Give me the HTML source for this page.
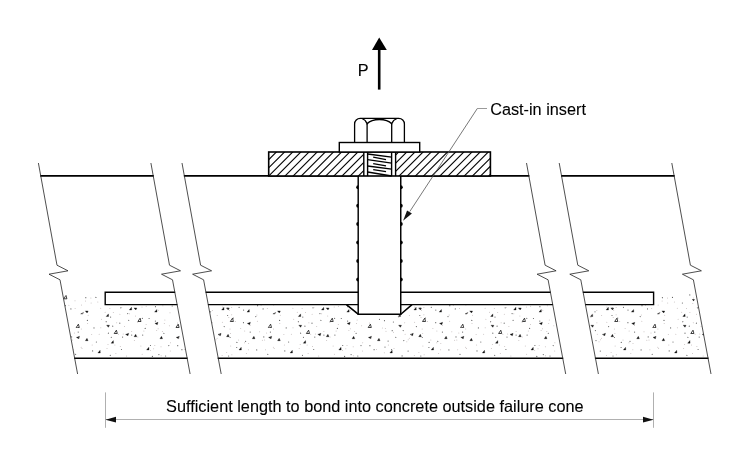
<!DOCTYPE html>
<html lang="en"><head><meta charset="utf-8"><title>Cast-in insert</title>
<style>
html,body{margin:0;padding:0;background:#fff;}
body{width:750px;height:465px;overflow:hidden;}
svg{display:block;will-change:transform;opacity:0.999;}
text{font-family:"Liberation Sans",Arial,sans-serif;font-size:16.25px;fill:#000;stroke:#000;stroke-width:0.1px;}
</style></head><body>
<svg width="750" height="465" viewBox="0 0 750 465">
<rect width="750" height="465" fill="#fff"/>

<defs><clipPath id="cc">
<polygon points="62.35,292.4 174.85,292.4 187.11,358 74.61,358"/>
<polygon points="205.95,292.4 550.45,292.4 562.71,358 218.21,358"/>
<polygon points="583.15,292.4 695.75,292.4 708.01,358 595.41,358"/>
</clipPath></defs>
<g clip-path="url(#cc)">
<polygon transform="translate(693.4,300)" points="-1.5,-0.8 1.4,-0.7 0.3,1.3" fill="#111"/>
<polygon transform="translate(115.8,332)" points="-1.6,1.5 1.5,1.5 0.6,-1.8" fill="#fff" stroke="#111" stroke-width="0.8"/>
<polygon transform="translate(308.0,332)" points="-1.6,1.5 1.5,1.5 0.6,-1.8" fill="#fff" stroke="#111" stroke-width="0.8"/>
<polygon transform="translate(500.2,332)" points="-1.6,1.5 1.5,1.5 0.6,-1.8" fill="#fff" stroke="#111" stroke-width="0.8"/>
<polygon transform="translate(692.4,332)" points="-1.6,1.5 1.5,1.5 0.6,-1.8" fill="#fff" stroke="#111" stroke-width="0.8"/>
<polygon transform="translate(30.8,308.7)" points="-1.3,1.2 1.1,1.2 0.9,-1.4" fill="#111" stroke="#111" stroke-width="0.3"/>
<polygon transform="translate(35.7,308.7)" points="-1.5,-0.8 1.4,-0.7 0.3,1.3" fill="#111" stroke="#111" stroke-width="0.3"/>
<polygon transform="translate(56.1,310.9)" points="-1.3,1.2 1.1,1.2 0.9,-1.4" fill="#111" stroke="#111" stroke-width="0.3"/>
<polygon transform="translate(39.7,320.0)" points="-1.6,1.5 1.5,1.5 0.6,-1.8" fill="#fff" stroke="#111" stroke-width="0.8"/>
<polygon transform="translate(56.8,323.3)" points="-1.7,0.1 1.4,-1.0 0.7,1.4" fill="#111" stroke="#111" stroke-width="0.3"/>
<polygon transform="translate(35.7,335.6)" points="-1.4,1.1 1.3,1.1 0.2,-1.3" fill="#111" stroke="#111" stroke-width="0.3"/>
<polygon transform="translate(61.5,337.6)" points="-1.4,1.1 1.3,1.1 0.2,-1.3" fill="#111" stroke="#111" stroke-width="0.3"/>
<polygon transform="translate(48.1,348.7)" points="-1.3,1.2 1.1,1.2 0.9,-1.4" fill="#111" stroke="#111" stroke-width="0.3"/>
<polygon transform="translate(77.8,326.0)" points="-1.6,1.5 1.5,1.5 0.6,-1.8" fill="#fff" stroke="#111" stroke-width="0.8"/>
<polygon transform="translate(78.1,337.3)" points="-1.7,0.1 1.4,-1.0 0.7,1.4" fill="#111" stroke="#111" stroke-width="0.3"/>
<polygon transform="translate(86.8,339.6)" points="-1.4,1.1 1.3,1.1 0.2,-1.3" fill="#111" stroke="#111" stroke-width="0.3"/>
<polygon transform="translate(82.1,312.9)" points="-1.4,1.0 1.4,-0.5 0.5,1.2" fill="#111" stroke="#111" stroke-width="0.3"/>
<polygon transform="translate(86.8,311.7)" points="-1.5,-0.8 1.4,-0.7 0.3,1.3" fill="#111" stroke="#111" stroke-width="0.3"/>
<polygon transform="translate(107.5,315.3)" points="-1.3,1.2 1.1,1.2 0.9,-1.4" fill="#111" stroke="#111" stroke-width="0.3"/>
<polygon transform="translate(108.1,326.0)" points="-1.5,-0.8 1.4,-0.7 0.3,1.3" fill="#111" stroke="#111" stroke-width="0.3"/>
<polygon transform="translate(112.4,342.0)" points="-1.3,1.2 1.1,1.2 0.9,-1.4" fill="#111" stroke="#111" stroke-width="0.3"/>
<polygon transform="translate(99.2,351.7)" points="-1.3,1.2 1.1,1.2 0.9,-1.4" fill="#111" stroke="#111" stroke-width="0.3"/>
<polygon transform="translate(65.4,297.3)" points="-1.6,1.5 1.5,1.5 0.6,-1.8" fill="#fff" stroke="#111" stroke-width="0.8"/>
<polygon transform="translate(223.0,308.7)" points="-1.3,1.2 1.1,1.2 0.9,-1.4" fill="#111" stroke="#111" stroke-width="0.3"/>
<polygon transform="translate(227.9,308.7)" points="-1.5,-0.8 1.4,-0.7 0.3,1.3" fill="#111" stroke="#111" stroke-width="0.3"/>
<polygon transform="translate(248.3,310.9)" points="-1.3,1.2 1.1,1.2 0.9,-1.4" fill="#111" stroke="#111" stroke-width="0.3"/>
<polygon transform="translate(231.9,320.0)" points="-1.6,1.5 1.5,1.5 0.6,-1.8" fill="#fff" stroke="#111" stroke-width="0.8"/>
<polygon transform="translate(249.0,323.3)" points="-1.7,0.1 1.4,-1.0 0.7,1.4" fill="#111" stroke="#111" stroke-width="0.3"/>
<polygon transform="translate(219.7,334.3)" points="-1.7,0.1 1.4,-1.0 0.7,1.4" fill="#111" stroke="#111" stroke-width="0.3"/>
<polygon transform="translate(227.9,335.6)" points="-1.4,1.1 1.3,1.1 0.2,-1.3" fill="#111" stroke="#111" stroke-width="0.3"/>
<polygon transform="translate(253.7,337.6)" points="-1.4,1.1 1.3,1.1 0.2,-1.3" fill="#111" stroke="#111" stroke-width="0.3"/>
<polygon transform="translate(240.3,348.7)" points="-1.3,1.2 1.1,1.2 0.9,-1.4" fill="#111" stroke="#111" stroke-width="0.3"/>
<polygon transform="translate(270.0,326.0)" points="-1.6,1.5 1.5,1.5 0.6,-1.8" fill="#fff" stroke="#111" stroke-width="0.8"/>
<polygon transform="translate(270.3,337.3)" points="-1.7,0.1 1.4,-1.0 0.7,1.4" fill="#111" stroke="#111" stroke-width="0.3"/>
<polygon transform="translate(279.0,339.6)" points="-1.4,1.1 1.3,1.1 0.2,-1.3" fill="#111" stroke="#111" stroke-width="0.3"/>
<polygon transform="translate(274.3,312.9)" points="-1.4,1.0 1.4,-0.5 0.5,1.2" fill="#111" stroke="#111" stroke-width="0.3"/>
<polygon transform="translate(279.0,311.7)" points="-1.5,-0.8 1.4,-0.7 0.3,1.3" fill="#111" stroke="#111" stroke-width="0.3"/>
<polygon transform="translate(299.7,315.3)" points="-1.3,1.2 1.1,1.2 0.9,-1.4" fill="#111" stroke="#111" stroke-width="0.3"/>
<polygon transform="translate(300.3,326.0)" points="-1.5,-0.8 1.4,-0.7 0.3,1.3" fill="#111" stroke="#111" stroke-width="0.3"/>
<polygon transform="translate(304.6,342.0)" points="-1.3,1.2 1.1,1.2 0.9,-1.4" fill="#111" stroke="#111" stroke-width="0.3"/>
<polygon transform="translate(291.4,351.7)" points="-1.3,1.2 1.1,1.2 0.9,-1.4" fill="#111" stroke="#111" stroke-width="0.3"/>
<polygon transform="translate(415.2,308.7)" points="-1.3,1.2 1.1,1.2 0.9,-1.4" fill="#111" stroke="#111" stroke-width="0.3"/>
<polygon transform="translate(420.1,308.7)" points="-1.5,-0.8 1.4,-0.7 0.3,1.3" fill="#111" stroke="#111" stroke-width="0.3"/>
<polygon transform="translate(440.5,310.9)" points="-1.3,1.2 1.1,1.2 0.9,-1.4" fill="#111" stroke="#111" stroke-width="0.3"/>
<polygon transform="translate(424.1,320.0)" points="-1.6,1.5 1.5,1.5 0.6,-1.8" fill="#fff" stroke="#111" stroke-width="0.8"/>
<polygon transform="translate(441.2,323.3)" points="-1.7,0.1 1.4,-1.0 0.7,1.4" fill="#111" stroke="#111" stroke-width="0.3"/>
<polygon transform="translate(411.9,334.3)" points="-1.7,0.1 1.4,-1.0 0.7,1.4" fill="#111" stroke="#111" stroke-width="0.3"/>
<polygon transform="translate(420.1,335.6)" points="-1.4,1.1 1.3,1.1 0.2,-1.3" fill="#111" stroke="#111" stroke-width="0.3"/>
<polygon transform="translate(445.9,337.6)" points="-1.4,1.1 1.3,1.1 0.2,-1.3" fill="#111" stroke="#111" stroke-width="0.3"/>
<polygon transform="translate(432.5,348.7)" points="-1.3,1.2 1.1,1.2 0.9,-1.4" fill="#111" stroke="#111" stroke-width="0.3"/>
<polygon transform="translate(462.2,326.0)" points="-1.6,1.5 1.5,1.5 0.6,-1.8" fill="#fff" stroke="#111" stroke-width="0.8"/>
<polygon transform="translate(462.5,337.3)" points="-1.7,0.1 1.4,-1.0 0.7,1.4" fill="#111" stroke="#111" stroke-width="0.3"/>
<polygon transform="translate(471.2,339.6)" points="-1.4,1.1 1.3,1.1 0.2,-1.3" fill="#111" stroke="#111" stroke-width="0.3"/>
<polygon transform="translate(466.5,312.9)" points="-1.4,1.0 1.4,-0.5 0.5,1.2" fill="#111" stroke="#111" stroke-width="0.3"/>
<polygon transform="translate(471.2,311.7)" points="-1.5,-0.8 1.4,-0.7 0.3,1.3" fill="#111" stroke="#111" stroke-width="0.3"/>
<polygon transform="translate(491.9,315.3)" points="-1.3,1.2 1.1,1.2 0.9,-1.4" fill="#111" stroke="#111" stroke-width="0.3"/>
<polygon transform="translate(492.5,326.0)" points="-1.5,-0.8 1.4,-0.7 0.3,1.3" fill="#111" stroke="#111" stroke-width="0.3"/>
<polygon transform="translate(496.8,342.0)" points="-1.3,1.2 1.1,1.2 0.9,-1.4" fill="#111" stroke="#111" stroke-width="0.3"/>
<polygon transform="translate(483.6,351.7)" points="-1.3,1.2 1.1,1.2 0.9,-1.4" fill="#111" stroke="#111" stroke-width="0.3"/>
<polygon transform="translate(607.4,308.7)" points="-1.3,1.2 1.1,1.2 0.9,-1.4" fill="#111" stroke="#111" stroke-width="0.3"/>
<polygon transform="translate(612.3,308.7)" points="-1.5,-0.8 1.4,-0.7 0.3,1.3" fill="#111" stroke="#111" stroke-width="0.3"/>
<polygon transform="translate(632.7,310.9)" points="-1.3,1.2 1.1,1.2 0.9,-1.4" fill="#111" stroke="#111" stroke-width="0.3"/>
<polygon transform="translate(616.3,320.0)" points="-1.6,1.5 1.5,1.5 0.6,-1.8" fill="#fff" stroke="#111" stroke-width="0.8"/>
<polygon transform="translate(633.4,323.3)" points="-1.7,0.1 1.4,-1.0 0.7,1.4" fill="#111" stroke="#111" stroke-width="0.3"/>
<polygon transform="translate(604.1,334.3)" points="-1.7,0.1 1.4,-1.0 0.7,1.4" fill="#111" stroke="#111" stroke-width="0.3"/>
<polygon transform="translate(612.3,335.6)" points="-1.4,1.1 1.3,1.1 0.2,-1.3" fill="#111" stroke="#111" stroke-width="0.3"/>
<polygon transform="translate(638.1,337.6)" points="-1.4,1.1 1.3,1.1 0.2,-1.3" fill="#111" stroke="#111" stroke-width="0.3"/>
<polygon transform="translate(624.7,348.7)" points="-1.3,1.2 1.1,1.2 0.9,-1.4" fill="#111" stroke="#111" stroke-width="0.3"/>
<polygon transform="translate(654.4,326.0)" points="-1.6,1.5 1.5,1.5 0.6,-1.8" fill="#fff" stroke="#111" stroke-width="0.8"/>
<polygon transform="translate(654.7,337.3)" points="-1.7,0.1 1.4,-1.0 0.7,1.4" fill="#111" stroke="#111" stroke-width="0.3"/>
<polygon transform="translate(663.4,339.6)" points="-1.4,1.1 1.3,1.1 0.2,-1.3" fill="#111" stroke="#111" stroke-width="0.3"/>
<polygon transform="translate(658.7,312.9)" points="-1.4,1.0 1.4,-0.5 0.5,1.2" fill="#111" stroke="#111" stroke-width="0.3"/>
<polygon transform="translate(663.4,311.7)" points="-1.5,-0.8 1.4,-0.7 0.3,1.3" fill="#111" stroke="#111" stroke-width="0.3"/>
<polygon transform="translate(684.1,315.3)" points="-1.3,1.2 1.1,1.2 0.9,-1.4" fill="#111" stroke="#111" stroke-width="0.3"/>
<polygon transform="translate(684.7,326.0)" points="-1.5,-0.8 1.4,-0.7 0.3,1.3" fill="#111" stroke="#111" stroke-width="0.3"/>
<polygon transform="translate(689.0,342.0)" points="-1.3,1.2 1.1,1.2 0.9,-1.4" fill="#111" stroke="#111" stroke-width="0.3"/>
<polygon transform="translate(675.8,351.7)" points="-1.3,1.2 1.1,1.2 0.9,-1.4" fill="#111" stroke="#111" stroke-width="0.3"/>
<polygon transform="translate(130.6,308.7)" points="-1.3,1.2 1.1,1.2 0.9,-1.4" fill="#111" stroke="#111" stroke-width="0.3"/>
<polygon transform="translate(135.5,308.7)" points="-1.5,-0.8 1.4,-0.7 0.3,1.3" fill="#111" stroke="#111" stroke-width="0.3"/>
<polygon transform="translate(155.9,310.9)" points="-1.3,1.2 1.1,1.2 0.9,-1.4" fill="#111" stroke="#111" stroke-width="0.3"/>
<polygon transform="translate(139.5,320.0)" points="-1.6,1.5 1.5,1.5 0.6,-1.8" fill="#fff" stroke="#111" stroke-width="0.8"/>
<polygon transform="translate(156.6,323.3)" points="-1.7,0.1 1.4,-1.0 0.7,1.4" fill="#111" stroke="#111" stroke-width="0.3"/>
<polygon transform="translate(127.3,334.3)" points="-1.7,0.1 1.4,-1.0 0.7,1.4" fill="#111" stroke="#111" stroke-width="0.3"/>
<polygon transform="translate(135.5,335.6)" points="-1.4,1.1 1.3,1.1 0.2,-1.3" fill="#111" stroke="#111" stroke-width="0.3"/>
<polygon transform="translate(161.3,337.6)" points="-1.4,1.1 1.3,1.1 0.2,-1.3" fill="#111" stroke="#111" stroke-width="0.3"/>
<polygon transform="translate(147.9,348.7)" points="-1.3,1.2 1.1,1.2 0.9,-1.4" fill="#111" stroke="#111" stroke-width="0.3"/>
<polygon transform="translate(177.6,326.0)" points="-1.6,1.5 1.5,1.5 0.6,-1.8" fill="#fff" stroke="#111" stroke-width="0.8"/>
<polygon transform="translate(177.9,337.3)" points="-1.7,0.1 1.4,-1.0 0.7,1.4" fill="#111" stroke="#111" stroke-width="0.3"/>
<polygon transform="translate(186.6,339.6)" points="-1.4,1.1 1.3,1.1 0.2,-1.3" fill="#111" stroke="#111" stroke-width="0.3"/>
<polygon transform="translate(181.9,312.9)" points="-1.4,1.0 1.4,-0.5 0.5,1.2" fill="#111" stroke="#111" stroke-width="0.3"/>
<polygon transform="translate(186.6,311.7)" points="-1.5,-0.8 1.4,-0.7 0.3,1.3" fill="#111" stroke="#111" stroke-width="0.3"/>
<polygon transform="translate(207.3,315.3)" points="-1.3,1.2 1.1,1.2 0.9,-1.4" fill="#111" stroke="#111" stroke-width="0.3"/>
<polygon transform="translate(207.9,326.0)" points="-1.5,-0.8 1.4,-0.7 0.3,1.3" fill="#111" stroke="#111" stroke-width="0.3"/>
<polygon transform="translate(199.0,351.7)" points="-1.3,1.2 1.1,1.2 0.9,-1.4" fill="#111" stroke="#111" stroke-width="0.3"/>
<polygon transform="translate(322.8,308.7)" points="-1.3,1.2 1.1,1.2 0.9,-1.4" fill="#111" stroke="#111" stroke-width="0.3"/>
<polygon transform="translate(327.7,308.7)" points="-1.5,-0.8 1.4,-0.7 0.3,1.3" fill="#111" stroke="#111" stroke-width="0.3"/>
<polygon transform="translate(348.1,310.9)" points="-1.3,1.2 1.1,1.2 0.9,-1.4" fill="#111" stroke="#111" stroke-width="0.3"/>
<polygon transform="translate(331.7,320.0)" points="-1.6,1.5 1.5,1.5 0.6,-1.8" fill="#fff" stroke="#111" stroke-width="0.8"/>
<polygon transform="translate(348.8,323.3)" points="-1.7,0.1 1.4,-1.0 0.7,1.4" fill="#111" stroke="#111" stroke-width="0.3"/>
<polygon transform="translate(319.5,334.3)" points="-1.7,0.1 1.4,-1.0 0.7,1.4" fill="#111" stroke="#111" stroke-width="0.3"/>
<polygon transform="translate(327.7,335.6)" points="-1.4,1.1 1.3,1.1 0.2,-1.3" fill="#111" stroke="#111" stroke-width="0.3"/>
<polygon transform="translate(353.5,337.6)" points="-1.4,1.1 1.3,1.1 0.2,-1.3" fill="#111" stroke="#111" stroke-width="0.3"/>
<polygon transform="translate(340.1,348.7)" points="-1.3,1.2 1.1,1.2 0.9,-1.4" fill="#111" stroke="#111" stroke-width="0.3"/>
<polygon transform="translate(369.8,326.0)" points="-1.6,1.5 1.5,1.5 0.6,-1.8" fill="#fff" stroke="#111" stroke-width="0.8"/>
<polygon transform="translate(370.1,337.3)" points="-1.7,0.1 1.4,-1.0 0.7,1.4" fill="#111" stroke="#111" stroke-width="0.3"/>
<polygon transform="translate(378.8,339.6)" points="-1.4,1.1 1.3,1.1 0.2,-1.3" fill="#111" stroke="#111" stroke-width="0.3"/>
<polygon transform="translate(374.1,312.9)" points="-1.4,1.0 1.4,-0.5 0.5,1.2" fill="#111" stroke="#111" stroke-width="0.3"/>
<polygon transform="translate(378.8,311.7)" points="-1.5,-0.8 1.4,-0.7 0.3,1.3" fill="#111" stroke="#111" stroke-width="0.3"/>
<polygon transform="translate(399.5,315.3)" points="-1.3,1.2 1.1,1.2 0.9,-1.4" fill="#111" stroke="#111" stroke-width="0.3"/>
<polygon transform="translate(400.1,326.0)" points="-1.5,-0.8 1.4,-0.7 0.3,1.3" fill="#111" stroke="#111" stroke-width="0.3"/>
<polygon transform="translate(391.2,351.7)" points="-1.3,1.2 1.1,1.2 0.9,-1.4" fill="#111" stroke="#111" stroke-width="0.3"/>
<polygon transform="translate(515.0,308.7)" points="-1.3,1.2 1.1,1.2 0.9,-1.4" fill="#111" stroke="#111" stroke-width="0.3"/>
<polygon transform="translate(519.9,308.7)" points="-1.5,-0.8 1.4,-0.7 0.3,1.3" fill="#111" stroke="#111" stroke-width="0.3"/>
<polygon transform="translate(540.3,310.9)" points="-1.3,1.2 1.1,1.2 0.9,-1.4" fill="#111" stroke="#111" stroke-width="0.3"/>
<polygon transform="translate(523.9,320.0)" points="-1.6,1.5 1.5,1.5 0.6,-1.8" fill="#fff" stroke="#111" stroke-width="0.8"/>
<polygon transform="translate(541.0,323.3)" points="-1.7,0.1 1.4,-1.0 0.7,1.4" fill="#111" stroke="#111" stroke-width="0.3"/>
<polygon transform="translate(511.7,334.3)" points="-1.7,0.1 1.4,-1.0 0.7,1.4" fill="#111" stroke="#111" stroke-width="0.3"/>
<polygon transform="translate(519.9,335.6)" points="-1.4,1.1 1.3,1.1 0.2,-1.3" fill="#111" stroke="#111" stroke-width="0.3"/>
<polygon transform="translate(545.7,337.6)" points="-1.4,1.1 1.3,1.1 0.2,-1.3" fill="#111" stroke="#111" stroke-width="0.3"/>
<polygon transform="translate(532.3,348.7)" points="-1.3,1.2 1.1,1.2 0.9,-1.4" fill="#111" stroke="#111" stroke-width="0.3"/>
<polygon transform="translate(562.0,326.0)" points="-1.6,1.5 1.5,1.5 0.6,-1.8" fill="#fff" stroke="#111" stroke-width="0.8"/>
<polygon transform="translate(562.3,337.3)" points="-1.7,0.1 1.4,-1.0 0.7,1.4" fill="#111" stroke="#111" stroke-width="0.3"/>
<polygon transform="translate(571.0,339.6)" points="-1.4,1.1 1.3,1.1 0.2,-1.3" fill="#111" stroke="#111" stroke-width="0.3"/>
<polygon transform="translate(566.3,312.9)" points="-1.4,1.0 1.4,-0.5 0.5,1.2" fill="#111" stroke="#111" stroke-width="0.3"/>
<polygon transform="translate(571.0,311.7)" points="-1.5,-0.8 1.4,-0.7 0.3,1.3" fill="#111" stroke="#111" stroke-width="0.3"/>
<polygon transform="translate(591.7,315.3)" points="-1.3,1.2 1.1,1.2 0.9,-1.4" fill="#111" stroke="#111" stroke-width="0.3"/>
<polygon transform="translate(592.3,326.0)" points="-1.5,-0.8 1.4,-0.7 0.3,1.3" fill="#111" stroke="#111" stroke-width="0.3"/>
<polygon transform="translate(583.4,351.7)" points="-1.3,1.2 1.1,1.2 0.9,-1.4" fill="#111" stroke="#111" stroke-width="0.3"/>
<polygon transform="translate(707.2,308.7)" points="-1.3,1.2 1.1,1.2 0.9,-1.4" fill="#111" stroke="#111" stroke-width="0.3"/>
<polygon transform="translate(712.1,308.7)" points="-1.5,-0.8 1.4,-0.7 0.3,1.3" fill="#111" stroke="#111" stroke-width="0.3"/>
<polygon transform="translate(716.1,320.0)" points="-1.6,1.5 1.5,1.5 0.6,-1.8" fill="#fff" stroke="#111" stroke-width="0.8"/>
<polygon transform="translate(703.9,334.3)" points="-1.7,0.1 1.4,-1.0 0.7,1.4" fill="#111" stroke="#111" stroke-width="0.3"/>
<polygon transform="translate(712.1,335.6)" points="-1.4,1.1 1.3,1.1 0.2,-1.3" fill="#111" stroke="#111" stroke-width="0.3"/>
<circle cx="65.4" cy="305.7" r="0.6" fill="#666"/>
<circle cx="63.6" cy="316.6" r="0.6" fill="#666"/>
<circle cx="58.0" cy="332.1" r="0.6" fill="#666"/>
<circle cx="64.5" cy="349.9" r="0.6" fill="#666"/>
<circle cx="70.9" cy="308.9" r="0.6" fill="#666"/>
<circle cx="71.6" cy="336.9" r="0.6" fill="#666"/>
<circle cx="78.2" cy="332.1" r="0.6" fill="#666"/>
<circle cx="78.7" cy="337.9" r="0.6" fill="#666"/>
<circle cx="75.6" cy="354.3" r="0.6" fill="#666"/>
<circle cx="85.8" cy="297.7" r="0.6" fill="#666"/>
<circle cx="87.4" cy="320.4" r="0.6" fill="#666"/>
<circle cx="95.9" cy="297.4" r="0.6" fill="#666"/>
<circle cx="94.0" cy="327.9" r="0.6" fill="#666"/>
<circle cx="96.4" cy="342.0" r="0.6" fill="#666"/>
<circle cx="92.6" cy="350.9" r="0.6" fill="#666"/>
<circle cx="105.8" cy="303.0" r="0.6" fill="#666"/>
<circle cx="106.2" cy="321.6" r="0.6" fill="#666"/>
<circle cx="108.4" cy="333.2" r="0.6" fill="#666"/>
<circle cx="113.2" cy="294.9" r="0.6" fill="#666"/>
<circle cx="110.6" cy="317.1" r="0.6" fill="#666"/>
<circle cx="112.7" cy="326.2" r="0.6" fill="#666"/>
<circle cx="111.3" cy="337.3" r="0.6" fill="#666"/>
<circle cx="110.3" cy="355.3" r="0.6" fill="#666"/>
<circle cx="120.8" cy="307.8" r="0.6" fill="#666"/>
<circle cx="119.8" cy="323.2" r="0.6" fill="#666"/>
<circle cx="122.6" cy="337.1" r="0.6" fill="#666"/>
<circle cx="121.5" cy="349.5" r="0.6" fill="#666"/>
<circle cx="127.7" cy="313.6" r="0.6" fill="#666"/>
<circle cx="128.7" cy="320.3" r="0.6" fill="#666"/>
<circle cx="131.7" cy="335.1" r="0.6" fill="#666"/>
<circle cx="139.2" cy="295.5" r="0.6" fill="#666"/>
<circle cx="142.4" cy="318.3" r="0.6" fill="#666"/>
<circle cx="142.7" cy="335.1" r="0.6" fill="#666"/>
<circle cx="149.1" cy="318.5" r="0.6" fill="#666"/>
<circle cx="145.2" cy="328.4" r="0.6" fill="#666"/>
<circle cx="150.5" cy="345.5" r="0.6" fill="#666"/>
<circle cx="152.4" cy="356.4" r="0.6" fill="#666"/>
<circle cx="155.5" cy="306.7" r="0.6" fill="#666"/>
<circle cx="155.4" cy="321.1" r="0.6" fill="#666"/>
<circle cx="158.9" cy="354.6" r="0.6" fill="#666"/>
<circle cx="167.7" cy="302.6" r="0.6" fill="#666"/>
<circle cx="163.9" cy="333.3" r="0.6" fill="#666"/>
<circle cx="168.8" cy="345.6" r="0.6" fill="#666"/>
<circle cx="165.6" cy="356.0" r="0.6" fill="#666"/>
<circle cx="172.2" cy="306.0" r="0.6" fill="#666"/>
<circle cx="177.7" cy="345.7" r="0.6" fill="#666"/>
<circle cx="184.3" cy="295.2" r="0.6" fill="#666"/>
<circle cx="187.6" cy="310.7" r="0.6" fill="#666"/>
<circle cx="187.3" cy="319.3" r="0.6" fill="#666"/>
<circle cx="181.9" cy="349.7" r="0.6" fill="#666"/>
<circle cx="193.3" cy="296.4" r="0.6" fill="#666"/>
<circle cx="189.7" cy="313.2" r="0.6" fill="#666"/>
<circle cx="192.3" cy="320.7" r="0.6" fill="#666"/>
<circle cx="195.9" cy="341.1" r="0.6" fill="#666"/>
<circle cx="192.8" cy="347.1" r="0.6" fill="#666"/>
<circle cx="198.9" cy="294.0" r="0.6" fill="#666"/>
<circle cx="201.2" cy="322.0" r="0.6" fill="#666"/>
<circle cx="200.0" cy="330.7" r="0.6" fill="#666"/>
<circle cx="203.6" cy="337.3" r="0.6" fill="#666"/>
<circle cx="199.4" cy="349.6" r="0.6" fill="#666"/>
<circle cx="210.6" cy="311.8" r="0.6" fill="#666"/>
<circle cx="211.0" cy="330.6" r="0.6" fill="#666"/>
<circle cx="211.6" cy="340.6" r="0.6" fill="#666"/>
<circle cx="209.9" cy="355.9" r="0.6" fill="#666"/>
<circle cx="219.3" cy="334.7" r="0.6" fill="#666"/>
<circle cx="215.9" cy="351.1" r="0.6" fill="#666"/>
<circle cx="61.6" cy="303.5" r="0.5" fill="#c4bcbc"/>
<circle cx="57.9" cy="325.6" r="0.5" fill="#c4bcbc"/>
<circle cx="56.4" cy="343.6" r="0.5" fill="#c4bcbc"/>
<circle cx="56.2" cy="349.7" r="0.5" fill="#c4bcbc"/>
<circle cx="64.9" cy="296.4" r="0.5" fill="#c4bcbc"/>
<circle cx="68.9" cy="305.3" r="0.5" fill="#c4bcbc"/>
<circle cx="64.7" cy="314.9" r="0.5" fill="#c4bcbc"/>
<circle cx="65.2" cy="321.2" r="0.5" fill="#c4bcbc"/>
<circle cx="67.4" cy="331.7" r="0.5" fill="#c4bcbc"/>
<circle cx="70.2" cy="340.2" r="0.5" fill="#c4bcbc"/>
<circle cx="75.0" cy="300.7" r="0.5" fill="#c4bcbc"/>
<circle cx="75.1" cy="308.6" r="0.5" fill="#c4bcbc"/>
<circle cx="77.4" cy="326.9" r="0.5" fill="#c4bcbc"/>
<circle cx="74.4" cy="333.0" r="0.5" fill="#c4bcbc"/>
<circle cx="72.4" cy="339.9" r="0.5" fill="#c4bcbc"/>
<circle cx="73.3" cy="349.7" r="0.5" fill="#c4bcbc"/>
<circle cx="85.5" cy="301.0" r="0.5" fill="#c4bcbc"/>
<circle cx="81.5" cy="304.9" r="0.5" fill="#c4bcbc"/>
<circle cx="82.8" cy="313.3" r="0.5" fill="#c4bcbc"/>
<circle cx="81.3" cy="329.0" r="0.5" fill="#c4bcbc"/>
<circle cx="81.2" cy="347.2" r="0.5" fill="#c4bcbc"/>
<circle cx="82.0" cy="348.4" r="0.5" fill="#c4bcbc"/>
<circle cx="90.9" cy="298.0" r="0.5" fill="#c4bcbc"/>
<circle cx="91.1" cy="303.0" r="0.5" fill="#c4bcbc"/>
<circle cx="88.1" cy="315.3" r="0.5" fill="#c4bcbc"/>
<circle cx="87.6" cy="323.6" r="0.5" fill="#c4bcbc"/>
<circle cx="91.7" cy="334.5" r="0.5" fill="#c4bcbc"/>
<circle cx="92.2" cy="345.1" r="0.5" fill="#c4bcbc"/>
<circle cx="97.8" cy="301.9" r="0.5" fill="#c4bcbc"/>
<circle cx="100.7" cy="308.2" r="0.5" fill="#c4bcbc"/>
<circle cx="101.5" cy="319.3" r="0.5" fill="#c4bcbc"/>
<circle cx="100.8" cy="327.8" r="0.5" fill="#c4bcbc"/>
<circle cx="99.2" cy="334.3" r="0.5" fill="#c4bcbc"/>
<circle cx="109.9" cy="308.5" r="0.5" fill="#c4bcbc"/>
<circle cx="105.1" cy="312.3" r="0.5" fill="#c4bcbc"/>
<circle cx="106.1" cy="322.0" r="0.5" fill="#c4bcbc"/>
<circle cx="108.0" cy="344.4" r="0.5" fill="#c4bcbc"/>
<circle cx="107.0" cy="348.4" r="0.5" fill="#c4bcbc"/>
<circle cx="116.9" cy="298.0" r="0.5" fill="#c4bcbc"/>
<circle cx="116.2" cy="303.5" r="0.5" fill="#c4bcbc"/>
<circle cx="113.3" cy="312.6" r="0.5" fill="#c4bcbc"/>
<circle cx="116.7" cy="322.8" r="0.5" fill="#c4bcbc"/>
<circle cx="118.5" cy="334.2" r="0.5" fill="#c4bcbc"/>
<circle cx="114.9" cy="344.9" r="0.5" fill="#c4bcbc"/>
<circle cx="115.9" cy="353.6" r="0.5" fill="#c4bcbc"/>
<circle cx="120.6" cy="295.9" r="0.5" fill="#c4bcbc"/>
<circle cx="121.7" cy="307.6" r="0.5" fill="#c4bcbc"/>
<circle cx="119.9" cy="314.2" r="0.5" fill="#c4bcbc"/>
<circle cx="124.5" cy="326.6" r="0.5" fill="#c4bcbc"/>
<circle cx="123.2" cy="334.0" r="0.5" fill="#c4bcbc"/>
<circle cx="120.3" cy="346.6" r="0.5" fill="#c4bcbc"/>
<circle cx="126.5" cy="356.0" r="0.5" fill="#c4bcbc"/>
<circle cx="130.8" cy="300.6" r="0.5" fill="#c4bcbc"/>
<circle cx="129.4" cy="313.7" r="0.5" fill="#c4bcbc"/>
<circle cx="131.7" cy="331.4" r="0.5" fill="#c4bcbc"/>
<circle cx="134.4" cy="340.4" r="0.5" fill="#c4bcbc"/>
<circle cx="141.9" cy="299.6" r="0.5" fill="#c4bcbc"/>
<circle cx="142.0" cy="306.9" r="0.5" fill="#c4bcbc"/>
<circle cx="135.5" cy="316.0" r="0.5" fill="#c4bcbc"/>
<circle cx="137.7" cy="322.3" r="0.5" fill="#c4bcbc"/>
<circle cx="137.8" cy="337.1" r="0.5" fill="#c4bcbc"/>
<circle cx="140.9" cy="346.1" r="0.5" fill="#c4bcbc"/>
<circle cx="142.2" cy="354.2" r="0.5" fill="#c4bcbc"/>
<circle cx="146.2" cy="306.2" r="0.5" fill="#c4bcbc"/>
<circle cx="146.1" cy="324.6" r="0.5" fill="#c4bcbc"/>
<circle cx="143.9" cy="331.0" r="0.5" fill="#c4bcbc"/>
<circle cx="150.3" cy="350.4" r="0.5" fill="#c4bcbc"/>
<circle cx="155.2" cy="295.4" r="0.5" fill="#c4bcbc"/>
<circle cx="158.4" cy="310.2" r="0.5" fill="#c4bcbc"/>
<circle cx="158.1" cy="328.8" r="0.5" fill="#c4bcbc"/>
<circle cx="156.7" cy="330.6" r="0.5" fill="#c4bcbc"/>
<circle cx="154.8" cy="345.4" r="0.5" fill="#c4bcbc"/>
<circle cx="153.6" cy="348.8" r="0.5" fill="#c4bcbc"/>
<circle cx="162.9" cy="305.8" r="0.5" fill="#c4bcbc"/>
<circle cx="164.9" cy="320.0" r="0.5" fill="#c4bcbc"/>
<circle cx="164.3" cy="323.6" r="0.5" fill="#c4bcbc"/>
<circle cx="162.4" cy="331.6" r="0.5" fill="#c4bcbc"/>
<circle cx="161.0" cy="346.7" r="0.5" fill="#c4bcbc"/>
<circle cx="161.1" cy="355.8" r="0.5" fill="#c4bcbc"/>
<circle cx="168.5" cy="304.5" r="0.5" fill="#c4bcbc"/>
<circle cx="170.0" cy="312.8" r="0.5" fill="#c4bcbc"/>
<circle cx="169.4" cy="325.8" r="0.5" fill="#c4bcbc"/>
<circle cx="170.5" cy="342.7" r="0.5" fill="#c4bcbc"/>
<circle cx="170.3" cy="351.1" r="0.5" fill="#c4bcbc"/>
<circle cx="177.6" cy="301.8" r="0.5" fill="#c4bcbc"/>
<circle cx="179.2" cy="308.1" r="0.5" fill="#c4bcbc"/>
<circle cx="177.5" cy="323.1" r="0.5" fill="#c4bcbc"/>
<circle cx="178.8" cy="338.0" r="0.5" fill="#c4bcbc"/>
<circle cx="183.8" cy="299.7" r="0.5" fill="#c4bcbc"/>
<circle cx="187.8" cy="312.0" r="0.5" fill="#c4bcbc"/>
<circle cx="190.2" cy="327.9" r="0.5" fill="#c4bcbc"/>
<circle cx="184.3" cy="349.6" r="0.5" fill="#c4bcbc"/>
<circle cx="196.5" cy="301.6" r="0.5" fill="#c4bcbc"/>
<circle cx="196.2" cy="309.2" r="0.5" fill="#c4bcbc"/>
<circle cx="195.5" cy="312.3" r="0.5" fill="#c4bcbc"/>
<circle cx="193.2" cy="328.6" r="0.5" fill="#c4bcbc"/>
<circle cx="193.8" cy="331.2" r="0.5" fill="#c4bcbc"/>
<circle cx="196.2" cy="345.0" r="0.5" fill="#c4bcbc"/>
<circle cx="192.1" cy="352.7" r="0.5" fill="#c4bcbc"/>
<circle cx="202.4" cy="295.7" r="0.5" fill="#c4bcbc"/>
<circle cx="199.7" cy="305.4" r="0.5" fill="#c4bcbc"/>
<circle cx="206.5" cy="317.3" r="0.5" fill="#c4bcbc"/>
<circle cx="201.3" cy="332.2" r="0.5" fill="#c4bcbc"/>
<circle cx="201.8" cy="348.5" r="0.5" fill="#c4bcbc"/>
<circle cx="212.4" cy="297.3" r="0.5" fill="#c4bcbc"/>
<circle cx="212.4" cy="310.5" r="0.5" fill="#c4bcbc"/>
<circle cx="207.8" cy="314.8" r="0.5" fill="#c4bcbc"/>
<circle cx="212.5" cy="322.7" r="0.5" fill="#c4bcbc"/>
<circle cx="212.9" cy="334.3" r="0.5" fill="#c4bcbc"/>
<circle cx="214.6" cy="341.8" r="0.5" fill="#c4bcbc"/>
<circle cx="217.2" cy="300.1" r="0.5" fill="#c4bcbc"/>
<circle cx="222.5" cy="307.0" r="0.5" fill="#c4bcbc"/>
<circle cx="217.2" cy="315.4" r="0.5" fill="#c4bcbc"/>
<circle cx="222.4" cy="322.3" r="0.5" fill="#c4bcbc"/>
<circle cx="217.1" cy="338.2" r="0.5" fill="#c4bcbc"/>
<circle cx="216.0" cy="339.8" r="0.5" fill="#c4bcbc"/>
<circle cx="222.1" cy="355.6" r="0.5" fill="#c4bcbc"/>
<circle cx="224.8" cy="300.1" r="0.6" fill="#666"/>
<circle cx="227.9" cy="308.0" r="0.6" fill="#666"/>
<circle cx="227.6" cy="315.5" r="0.6" fill="#666"/>
<circle cx="224.2" cy="326.6" r="0.6" fill="#666"/>
<circle cx="230.1" cy="337.5" r="0.6" fill="#666"/>
<circle cx="228.6" cy="356.0" r="0.6" fill="#666"/>
<circle cx="235.5" cy="303.2" r="0.6" fill="#666"/>
<circle cx="239.1" cy="307.3" r="0.6" fill="#666"/>
<circle cx="233.3" cy="318.1" r="0.6" fill="#666"/>
<circle cx="236.9" cy="342.4" r="0.6" fill="#666"/>
<circle cx="236.7" cy="347.5" r="0.6" fill="#666"/>
<circle cx="242.7" cy="300.4" r="0.6" fill="#666"/>
<circle cx="243.6" cy="310.1" r="0.6" fill="#666"/>
<circle cx="243.5" cy="322.7" r="0.6" fill="#666"/>
<circle cx="245.6" cy="341.3" r="0.6" fill="#666"/>
<circle cx="257.6" cy="305.7" r="0.6" fill="#666"/>
<circle cx="255.8" cy="316.6" r="0.6" fill="#666"/>
<circle cx="250.2" cy="332.1" r="0.6" fill="#666"/>
<circle cx="256.7" cy="349.9" r="0.6" fill="#666"/>
<circle cx="263.1" cy="308.9" r="0.6" fill="#666"/>
<circle cx="263.8" cy="336.9" r="0.6" fill="#666"/>
<circle cx="270.4" cy="332.1" r="0.6" fill="#666"/>
<circle cx="270.9" cy="337.9" r="0.6" fill="#666"/>
<circle cx="267.8" cy="354.3" r="0.6" fill="#666"/>
<circle cx="278.0" cy="297.7" r="0.6" fill="#666"/>
<circle cx="279.6" cy="320.4" r="0.6" fill="#666"/>
<circle cx="288.1" cy="297.4" r="0.6" fill="#666"/>
<circle cx="286.2" cy="327.9" r="0.6" fill="#666"/>
<circle cx="288.6" cy="342.0" r="0.6" fill="#666"/>
<circle cx="284.8" cy="350.9" r="0.6" fill="#666"/>
<circle cx="298.0" cy="303.0" r="0.6" fill="#666"/>
<circle cx="298.4" cy="321.6" r="0.6" fill="#666"/>
<circle cx="300.6" cy="333.2" r="0.6" fill="#666"/>
<circle cx="305.4" cy="294.9" r="0.6" fill="#666"/>
<circle cx="302.8" cy="317.1" r="0.6" fill="#666"/>
<circle cx="304.9" cy="326.2" r="0.6" fill="#666"/>
<circle cx="303.5" cy="337.3" r="0.6" fill="#666"/>
<circle cx="302.5" cy="355.3" r="0.6" fill="#666"/>
<circle cx="313.0" cy="307.8" r="0.6" fill="#666"/>
<circle cx="312.0" cy="323.2" r="0.6" fill="#666"/>
<circle cx="314.8" cy="337.1" r="0.6" fill="#666"/>
<circle cx="313.7" cy="349.5" r="0.6" fill="#666"/>
<circle cx="319.9" cy="313.6" r="0.6" fill="#666"/>
<circle cx="320.9" cy="320.3" r="0.6" fill="#666"/>
<circle cx="323.9" cy="335.1" r="0.6" fill="#666"/>
<circle cx="331.4" cy="295.5" r="0.6" fill="#666"/>
<circle cx="334.6" cy="318.3" r="0.6" fill="#666"/>
<circle cx="334.9" cy="335.1" r="0.6" fill="#666"/>
<circle cx="341.3" cy="318.5" r="0.6" fill="#666"/>
<circle cx="337.4" cy="328.4" r="0.6" fill="#666"/>
<circle cx="342.7" cy="345.5" r="0.6" fill="#666"/>
<circle cx="344.6" cy="356.4" r="0.6" fill="#666"/>
<circle cx="347.7" cy="306.7" r="0.6" fill="#666"/>
<circle cx="347.6" cy="321.1" r="0.6" fill="#666"/>
<circle cx="351.1" cy="354.6" r="0.6" fill="#666"/>
<circle cx="359.9" cy="302.6" r="0.6" fill="#666"/>
<circle cx="356.1" cy="333.3" r="0.6" fill="#666"/>
<circle cx="361.0" cy="345.6" r="0.6" fill="#666"/>
<circle cx="357.8" cy="356.0" r="0.6" fill="#666"/>
<circle cx="364.4" cy="306.0" r="0.6" fill="#666"/>
<circle cx="369.9" cy="345.7" r="0.6" fill="#666"/>
<circle cx="376.5" cy="295.2" r="0.6" fill="#666"/>
<circle cx="379.8" cy="310.7" r="0.6" fill="#666"/>
<circle cx="379.5" cy="319.3" r="0.6" fill="#666"/>
<circle cx="374.1" cy="349.7" r="0.6" fill="#666"/>
<circle cx="385.5" cy="296.4" r="0.6" fill="#666"/>
<circle cx="381.9" cy="313.2" r="0.6" fill="#666"/>
<circle cx="384.5" cy="320.7" r="0.6" fill="#666"/>
<circle cx="388.1" cy="341.1" r="0.6" fill="#666"/>
<circle cx="385.0" cy="347.1" r="0.6" fill="#666"/>
<circle cx="391.1" cy="294.0" r="0.6" fill="#666"/>
<circle cx="393.4" cy="322.0" r="0.6" fill="#666"/>
<circle cx="392.2" cy="330.7" r="0.6" fill="#666"/>
<circle cx="395.8" cy="337.3" r="0.6" fill="#666"/>
<circle cx="391.6" cy="349.6" r="0.6" fill="#666"/>
<circle cx="402.8" cy="311.8" r="0.6" fill="#666"/>
<circle cx="403.2" cy="330.6" r="0.6" fill="#666"/>
<circle cx="403.8" cy="340.6" r="0.6" fill="#666"/>
<circle cx="402.1" cy="355.9" r="0.6" fill="#666"/>
<circle cx="411.5" cy="334.7" r="0.6" fill="#666"/>
<circle cx="408.1" cy="351.1" r="0.6" fill="#666"/>
<circle cx="225.3" cy="294.5" r="0.5" fill="#c4bcbc"/>
<circle cx="229.3" cy="310.3" r="0.5" fill="#c4bcbc"/>
<circle cx="228.8" cy="317.4" r="0.5" fill="#c4bcbc"/>
<circle cx="230.0" cy="329.0" r="0.5" fill="#c4bcbc"/>
<circle cx="230.5" cy="333.5" r="0.5" fill="#c4bcbc"/>
<circle cx="230.7" cy="346.1" r="0.5" fill="#c4bcbc"/>
<circle cx="226.7" cy="352.6" r="0.5" fill="#c4bcbc"/>
<circle cx="233.0" cy="296.5" r="0.5" fill="#c4bcbc"/>
<circle cx="231.7" cy="307.5" r="0.5" fill="#c4bcbc"/>
<circle cx="231.7" cy="314.7" r="0.5" fill="#c4bcbc"/>
<circle cx="235.3" cy="321.6" r="0.5" fill="#c4bcbc"/>
<circle cx="238.6" cy="340.1" r="0.5" fill="#c4bcbc"/>
<circle cx="231.9" cy="354.7" r="0.5" fill="#c4bcbc"/>
<circle cx="240.6" cy="297.3" r="0.5" fill="#c4bcbc"/>
<circle cx="240.7" cy="328.6" r="0.5" fill="#c4bcbc"/>
<circle cx="244.7" cy="330.9" r="0.5" fill="#c4bcbc"/>
<circle cx="244.6" cy="342.8" r="0.5" fill="#c4bcbc"/>
<circle cx="246.4" cy="353.6" r="0.5" fill="#c4bcbc"/>
<circle cx="253.8" cy="303.5" r="0.5" fill="#c4bcbc"/>
<circle cx="250.1" cy="325.6" r="0.5" fill="#c4bcbc"/>
<circle cx="248.6" cy="343.6" r="0.5" fill="#c4bcbc"/>
<circle cx="248.4" cy="349.7" r="0.5" fill="#c4bcbc"/>
<circle cx="257.1" cy="296.4" r="0.5" fill="#c4bcbc"/>
<circle cx="261.1" cy="305.3" r="0.5" fill="#c4bcbc"/>
<circle cx="256.9" cy="314.9" r="0.5" fill="#c4bcbc"/>
<circle cx="257.4" cy="321.2" r="0.5" fill="#c4bcbc"/>
<circle cx="259.6" cy="331.7" r="0.5" fill="#c4bcbc"/>
<circle cx="262.4" cy="340.2" r="0.5" fill="#c4bcbc"/>
<circle cx="267.2" cy="300.7" r="0.5" fill="#c4bcbc"/>
<circle cx="267.3" cy="308.6" r="0.5" fill="#c4bcbc"/>
<circle cx="269.6" cy="326.9" r="0.5" fill="#c4bcbc"/>
<circle cx="266.6" cy="333.0" r="0.5" fill="#c4bcbc"/>
<circle cx="264.6" cy="339.9" r="0.5" fill="#c4bcbc"/>
<circle cx="265.5" cy="349.7" r="0.5" fill="#c4bcbc"/>
<circle cx="277.7" cy="301.0" r="0.5" fill="#c4bcbc"/>
<circle cx="273.7" cy="304.9" r="0.5" fill="#c4bcbc"/>
<circle cx="275.0" cy="313.3" r="0.5" fill="#c4bcbc"/>
<circle cx="273.5" cy="329.0" r="0.5" fill="#c4bcbc"/>
<circle cx="273.4" cy="347.2" r="0.5" fill="#c4bcbc"/>
<circle cx="274.2" cy="348.4" r="0.5" fill="#c4bcbc"/>
<circle cx="283.1" cy="298.0" r="0.5" fill="#c4bcbc"/>
<circle cx="283.3" cy="303.0" r="0.5" fill="#c4bcbc"/>
<circle cx="280.3" cy="315.3" r="0.5" fill="#c4bcbc"/>
<circle cx="279.8" cy="323.6" r="0.5" fill="#c4bcbc"/>
<circle cx="283.9" cy="334.5" r="0.5" fill="#c4bcbc"/>
<circle cx="284.4" cy="345.1" r="0.5" fill="#c4bcbc"/>
<circle cx="290.0" cy="301.9" r="0.5" fill="#c4bcbc"/>
<circle cx="292.9" cy="308.2" r="0.5" fill="#c4bcbc"/>
<circle cx="293.7" cy="319.3" r="0.5" fill="#c4bcbc"/>
<circle cx="293.0" cy="327.8" r="0.5" fill="#c4bcbc"/>
<circle cx="291.4" cy="334.3" r="0.5" fill="#c4bcbc"/>
<circle cx="302.1" cy="308.5" r="0.5" fill="#c4bcbc"/>
<circle cx="297.3" cy="312.3" r="0.5" fill="#c4bcbc"/>
<circle cx="298.3" cy="322.0" r="0.5" fill="#c4bcbc"/>
<circle cx="300.2" cy="344.4" r="0.5" fill="#c4bcbc"/>
<circle cx="299.2" cy="348.4" r="0.5" fill="#c4bcbc"/>
<circle cx="309.1" cy="298.0" r="0.5" fill="#c4bcbc"/>
<circle cx="308.4" cy="303.5" r="0.5" fill="#c4bcbc"/>
<circle cx="305.5" cy="312.6" r="0.5" fill="#c4bcbc"/>
<circle cx="308.9" cy="322.8" r="0.5" fill="#c4bcbc"/>
<circle cx="310.7" cy="334.2" r="0.5" fill="#c4bcbc"/>
<circle cx="307.1" cy="344.9" r="0.5" fill="#c4bcbc"/>
<circle cx="308.1" cy="353.6" r="0.5" fill="#c4bcbc"/>
<circle cx="312.8" cy="295.9" r="0.5" fill="#c4bcbc"/>
<circle cx="313.9" cy="307.6" r="0.5" fill="#c4bcbc"/>
<circle cx="312.1" cy="314.2" r="0.5" fill="#c4bcbc"/>
<circle cx="316.7" cy="326.6" r="0.5" fill="#c4bcbc"/>
<circle cx="315.4" cy="334.0" r="0.5" fill="#c4bcbc"/>
<circle cx="312.5" cy="346.6" r="0.5" fill="#c4bcbc"/>
<circle cx="318.7" cy="356.0" r="0.5" fill="#c4bcbc"/>
<circle cx="323.0" cy="300.6" r="0.5" fill="#c4bcbc"/>
<circle cx="321.6" cy="313.7" r="0.5" fill="#c4bcbc"/>
<circle cx="323.9" cy="331.4" r="0.5" fill="#c4bcbc"/>
<circle cx="326.6" cy="340.4" r="0.5" fill="#c4bcbc"/>
<circle cx="334.1" cy="299.6" r="0.5" fill="#c4bcbc"/>
<circle cx="334.2" cy="306.9" r="0.5" fill="#c4bcbc"/>
<circle cx="327.7" cy="316.0" r="0.5" fill="#c4bcbc"/>
<circle cx="329.9" cy="322.3" r="0.5" fill="#c4bcbc"/>
<circle cx="330.0" cy="337.1" r="0.5" fill="#c4bcbc"/>
<circle cx="333.1" cy="346.1" r="0.5" fill="#c4bcbc"/>
<circle cx="334.4" cy="354.2" r="0.5" fill="#c4bcbc"/>
<circle cx="338.4" cy="306.2" r="0.5" fill="#c4bcbc"/>
<circle cx="338.3" cy="324.6" r="0.5" fill="#c4bcbc"/>
<circle cx="336.1" cy="331.0" r="0.5" fill="#c4bcbc"/>
<circle cx="342.5" cy="350.4" r="0.5" fill="#c4bcbc"/>
<circle cx="347.4" cy="295.4" r="0.5" fill="#c4bcbc"/>
<circle cx="350.6" cy="310.2" r="0.5" fill="#c4bcbc"/>
<circle cx="350.3" cy="328.8" r="0.5" fill="#c4bcbc"/>
<circle cx="348.9" cy="330.6" r="0.5" fill="#c4bcbc"/>
<circle cx="347.0" cy="345.4" r="0.5" fill="#c4bcbc"/>
<circle cx="345.8" cy="348.8" r="0.5" fill="#c4bcbc"/>
<circle cx="355.1" cy="305.8" r="0.5" fill="#c4bcbc"/>
<circle cx="357.1" cy="320.0" r="0.5" fill="#c4bcbc"/>
<circle cx="356.5" cy="323.6" r="0.5" fill="#c4bcbc"/>
<circle cx="354.6" cy="331.6" r="0.5" fill="#c4bcbc"/>
<circle cx="353.2" cy="346.7" r="0.5" fill="#c4bcbc"/>
<circle cx="353.3" cy="355.8" r="0.5" fill="#c4bcbc"/>
<circle cx="360.7" cy="304.5" r="0.5" fill="#c4bcbc"/>
<circle cx="362.2" cy="312.8" r="0.5" fill="#c4bcbc"/>
<circle cx="361.6" cy="325.8" r="0.5" fill="#c4bcbc"/>
<circle cx="362.7" cy="342.7" r="0.5" fill="#c4bcbc"/>
<circle cx="362.5" cy="351.1" r="0.5" fill="#c4bcbc"/>
<circle cx="369.8" cy="301.8" r="0.5" fill="#c4bcbc"/>
<circle cx="371.4" cy="308.1" r="0.5" fill="#c4bcbc"/>
<circle cx="369.7" cy="323.1" r="0.5" fill="#c4bcbc"/>
<circle cx="371.0" cy="338.0" r="0.5" fill="#c4bcbc"/>
<circle cx="376.0" cy="299.7" r="0.5" fill="#c4bcbc"/>
<circle cx="380.0" cy="312.0" r="0.5" fill="#c4bcbc"/>
<circle cx="382.4" cy="327.9" r="0.5" fill="#c4bcbc"/>
<circle cx="376.5" cy="349.6" r="0.5" fill="#c4bcbc"/>
<circle cx="388.7" cy="301.6" r="0.5" fill="#c4bcbc"/>
<circle cx="388.4" cy="309.2" r="0.5" fill="#c4bcbc"/>
<circle cx="387.7" cy="312.3" r="0.5" fill="#c4bcbc"/>
<circle cx="385.4" cy="328.6" r="0.5" fill="#c4bcbc"/>
<circle cx="386.0" cy="331.2" r="0.5" fill="#c4bcbc"/>
<circle cx="388.4" cy="345.0" r="0.5" fill="#c4bcbc"/>
<circle cx="384.3" cy="352.7" r="0.5" fill="#c4bcbc"/>
<circle cx="394.6" cy="295.7" r="0.5" fill="#c4bcbc"/>
<circle cx="391.9" cy="305.4" r="0.5" fill="#c4bcbc"/>
<circle cx="398.7" cy="317.3" r="0.5" fill="#c4bcbc"/>
<circle cx="393.5" cy="332.2" r="0.5" fill="#c4bcbc"/>
<circle cx="394.0" cy="348.5" r="0.5" fill="#c4bcbc"/>
<circle cx="404.6" cy="297.3" r="0.5" fill="#c4bcbc"/>
<circle cx="404.6" cy="310.5" r="0.5" fill="#c4bcbc"/>
<circle cx="400.0" cy="314.8" r="0.5" fill="#c4bcbc"/>
<circle cx="404.7" cy="322.7" r="0.5" fill="#c4bcbc"/>
<circle cx="405.1" cy="334.3" r="0.5" fill="#c4bcbc"/>
<circle cx="406.8" cy="341.8" r="0.5" fill="#c4bcbc"/>
<circle cx="409.4" cy="300.1" r="0.5" fill="#c4bcbc"/>
<circle cx="414.7" cy="307.0" r="0.5" fill="#c4bcbc"/>
<circle cx="409.4" cy="315.4" r="0.5" fill="#c4bcbc"/>
<circle cx="414.6" cy="322.3" r="0.5" fill="#c4bcbc"/>
<circle cx="409.3" cy="338.2" r="0.5" fill="#c4bcbc"/>
<circle cx="408.2" cy="339.8" r="0.5" fill="#c4bcbc"/>
<circle cx="414.3" cy="355.6" r="0.5" fill="#c4bcbc"/>
<circle cx="417.0" cy="300.1" r="0.6" fill="#666"/>
<circle cx="420.1" cy="308.0" r="0.6" fill="#666"/>
<circle cx="419.8" cy="315.5" r="0.6" fill="#666"/>
<circle cx="416.4" cy="326.6" r="0.6" fill="#666"/>
<circle cx="422.3" cy="337.5" r="0.6" fill="#666"/>
<circle cx="420.8" cy="356.0" r="0.6" fill="#666"/>
<circle cx="427.7" cy="303.2" r="0.6" fill="#666"/>
<circle cx="431.3" cy="307.3" r="0.6" fill="#666"/>
<circle cx="425.5" cy="318.1" r="0.6" fill="#666"/>
<circle cx="429.1" cy="342.4" r="0.6" fill="#666"/>
<circle cx="428.9" cy="347.5" r="0.6" fill="#666"/>
<circle cx="434.9" cy="300.4" r="0.6" fill="#666"/>
<circle cx="435.8" cy="310.1" r="0.6" fill="#666"/>
<circle cx="435.7" cy="322.7" r="0.6" fill="#666"/>
<circle cx="437.8" cy="341.3" r="0.6" fill="#666"/>
<circle cx="449.8" cy="305.7" r="0.6" fill="#666"/>
<circle cx="448.0" cy="316.6" r="0.6" fill="#666"/>
<circle cx="442.4" cy="332.1" r="0.6" fill="#666"/>
<circle cx="448.9" cy="349.9" r="0.6" fill="#666"/>
<circle cx="455.3" cy="308.9" r="0.6" fill="#666"/>
<circle cx="456.0" cy="336.9" r="0.6" fill="#666"/>
<circle cx="462.6" cy="332.1" r="0.6" fill="#666"/>
<circle cx="463.1" cy="337.9" r="0.6" fill="#666"/>
<circle cx="460.0" cy="354.3" r="0.6" fill="#666"/>
<circle cx="470.2" cy="297.7" r="0.6" fill="#666"/>
<circle cx="471.8" cy="320.4" r="0.6" fill="#666"/>
<circle cx="480.3" cy="297.4" r="0.6" fill="#666"/>
<circle cx="478.4" cy="327.9" r="0.6" fill="#666"/>
<circle cx="480.8" cy="342.0" r="0.6" fill="#666"/>
<circle cx="477.0" cy="350.9" r="0.6" fill="#666"/>
<circle cx="490.2" cy="303.0" r="0.6" fill="#666"/>
<circle cx="490.6" cy="321.6" r="0.6" fill="#666"/>
<circle cx="492.8" cy="333.2" r="0.6" fill="#666"/>
<circle cx="497.6" cy="294.9" r="0.6" fill="#666"/>
<circle cx="495.0" cy="317.1" r="0.6" fill="#666"/>
<circle cx="497.1" cy="326.2" r="0.6" fill="#666"/>
<circle cx="495.7" cy="337.3" r="0.6" fill="#666"/>
<circle cx="494.7" cy="355.3" r="0.6" fill="#666"/>
<circle cx="505.2" cy="307.8" r="0.6" fill="#666"/>
<circle cx="504.2" cy="323.2" r="0.6" fill="#666"/>
<circle cx="507.0" cy="337.1" r="0.6" fill="#666"/>
<circle cx="505.9" cy="349.5" r="0.6" fill="#666"/>
<circle cx="512.1" cy="313.6" r="0.6" fill="#666"/>
<circle cx="513.1" cy="320.3" r="0.6" fill="#666"/>
<circle cx="516.1" cy="335.1" r="0.6" fill="#666"/>
<circle cx="523.6" cy="295.5" r="0.6" fill="#666"/>
<circle cx="526.8" cy="318.3" r="0.6" fill="#666"/>
<circle cx="527.1" cy="335.1" r="0.6" fill="#666"/>
<circle cx="533.5" cy="318.5" r="0.6" fill="#666"/>
<circle cx="529.6" cy="328.4" r="0.6" fill="#666"/>
<circle cx="534.9" cy="345.5" r="0.6" fill="#666"/>
<circle cx="536.8" cy="356.4" r="0.6" fill="#666"/>
<circle cx="539.9" cy="306.7" r="0.6" fill="#666"/>
<circle cx="539.8" cy="321.1" r="0.6" fill="#666"/>
<circle cx="543.3" cy="354.6" r="0.6" fill="#666"/>
<circle cx="552.1" cy="302.6" r="0.6" fill="#666"/>
<circle cx="548.3" cy="333.3" r="0.6" fill="#666"/>
<circle cx="553.2" cy="345.6" r="0.6" fill="#666"/>
<circle cx="550.0" cy="356.0" r="0.6" fill="#666"/>
<circle cx="556.6" cy="306.0" r="0.6" fill="#666"/>
<circle cx="562.1" cy="345.7" r="0.6" fill="#666"/>
<circle cx="568.7" cy="295.2" r="0.6" fill="#666"/>
<circle cx="572.0" cy="310.7" r="0.6" fill="#666"/>
<circle cx="571.7" cy="319.3" r="0.6" fill="#666"/>
<circle cx="566.3" cy="349.7" r="0.6" fill="#666"/>
<circle cx="577.7" cy="296.4" r="0.6" fill="#666"/>
<circle cx="574.1" cy="313.2" r="0.6" fill="#666"/>
<circle cx="576.7" cy="320.7" r="0.6" fill="#666"/>
<circle cx="580.3" cy="341.1" r="0.6" fill="#666"/>
<circle cx="577.2" cy="347.1" r="0.6" fill="#666"/>
<circle cx="583.3" cy="294.0" r="0.6" fill="#666"/>
<circle cx="585.6" cy="322.0" r="0.6" fill="#666"/>
<circle cx="584.4" cy="330.7" r="0.6" fill="#666"/>
<circle cx="588.0" cy="337.3" r="0.6" fill="#666"/>
<circle cx="583.8" cy="349.6" r="0.6" fill="#666"/>
<circle cx="595.0" cy="311.8" r="0.6" fill="#666"/>
<circle cx="595.4" cy="330.6" r="0.6" fill="#666"/>
<circle cx="596.0" cy="340.6" r="0.6" fill="#666"/>
<circle cx="594.3" cy="355.9" r="0.6" fill="#666"/>
<circle cx="603.7" cy="334.7" r="0.6" fill="#666"/>
<circle cx="600.3" cy="351.1" r="0.6" fill="#666"/>
<circle cx="417.5" cy="294.5" r="0.5" fill="#c4bcbc"/>
<circle cx="421.5" cy="310.3" r="0.5" fill="#c4bcbc"/>
<circle cx="421.0" cy="317.4" r="0.5" fill="#c4bcbc"/>
<circle cx="422.2" cy="329.0" r="0.5" fill="#c4bcbc"/>
<circle cx="422.7" cy="333.5" r="0.5" fill="#c4bcbc"/>
<circle cx="422.9" cy="346.1" r="0.5" fill="#c4bcbc"/>
<circle cx="418.9" cy="352.6" r="0.5" fill="#c4bcbc"/>
<circle cx="425.2" cy="296.5" r="0.5" fill="#c4bcbc"/>
<circle cx="423.9" cy="307.5" r="0.5" fill="#c4bcbc"/>
<circle cx="423.9" cy="314.7" r="0.5" fill="#c4bcbc"/>
<circle cx="427.5" cy="321.6" r="0.5" fill="#c4bcbc"/>
<circle cx="430.8" cy="340.1" r="0.5" fill="#c4bcbc"/>
<circle cx="424.1" cy="354.7" r="0.5" fill="#c4bcbc"/>
<circle cx="432.8" cy="297.3" r="0.5" fill="#c4bcbc"/>
<circle cx="432.9" cy="328.6" r="0.5" fill="#c4bcbc"/>
<circle cx="436.9" cy="330.9" r="0.5" fill="#c4bcbc"/>
<circle cx="436.8" cy="342.8" r="0.5" fill="#c4bcbc"/>
<circle cx="438.6" cy="353.6" r="0.5" fill="#c4bcbc"/>
<circle cx="446.0" cy="303.5" r="0.5" fill="#c4bcbc"/>
<circle cx="442.3" cy="325.6" r="0.5" fill="#c4bcbc"/>
<circle cx="440.8" cy="343.6" r="0.5" fill="#c4bcbc"/>
<circle cx="440.6" cy="349.7" r="0.5" fill="#c4bcbc"/>
<circle cx="449.3" cy="296.4" r="0.5" fill="#c4bcbc"/>
<circle cx="453.3" cy="305.3" r="0.5" fill="#c4bcbc"/>
<circle cx="449.1" cy="314.9" r="0.5" fill="#c4bcbc"/>
<circle cx="449.6" cy="321.2" r="0.5" fill="#c4bcbc"/>
<circle cx="451.8" cy="331.7" r="0.5" fill="#c4bcbc"/>
<circle cx="454.6" cy="340.2" r="0.5" fill="#c4bcbc"/>
<circle cx="459.4" cy="300.7" r="0.5" fill="#c4bcbc"/>
<circle cx="459.5" cy="308.6" r="0.5" fill="#c4bcbc"/>
<circle cx="461.8" cy="326.9" r="0.5" fill="#c4bcbc"/>
<circle cx="458.8" cy="333.0" r="0.5" fill="#c4bcbc"/>
<circle cx="456.8" cy="339.9" r="0.5" fill="#c4bcbc"/>
<circle cx="457.7" cy="349.7" r="0.5" fill="#c4bcbc"/>
<circle cx="469.9" cy="301.0" r="0.5" fill="#c4bcbc"/>
<circle cx="465.9" cy="304.9" r="0.5" fill="#c4bcbc"/>
<circle cx="467.2" cy="313.3" r="0.5" fill="#c4bcbc"/>
<circle cx="465.7" cy="329.0" r="0.5" fill="#c4bcbc"/>
<circle cx="465.6" cy="347.2" r="0.5" fill="#c4bcbc"/>
<circle cx="466.4" cy="348.4" r="0.5" fill="#c4bcbc"/>
<circle cx="475.3" cy="298.0" r="0.5" fill="#c4bcbc"/>
<circle cx="475.5" cy="303.0" r="0.5" fill="#c4bcbc"/>
<circle cx="472.5" cy="315.3" r="0.5" fill="#c4bcbc"/>
<circle cx="472.0" cy="323.6" r="0.5" fill="#c4bcbc"/>
<circle cx="476.1" cy="334.5" r="0.5" fill="#c4bcbc"/>
<circle cx="476.6" cy="345.1" r="0.5" fill="#c4bcbc"/>
<circle cx="482.2" cy="301.9" r="0.5" fill="#c4bcbc"/>
<circle cx="485.1" cy="308.2" r="0.5" fill="#c4bcbc"/>
<circle cx="485.9" cy="319.3" r="0.5" fill="#c4bcbc"/>
<circle cx="485.2" cy="327.8" r="0.5" fill="#c4bcbc"/>
<circle cx="483.6" cy="334.3" r="0.5" fill="#c4bcbc"/>
<circle cx="494.3" cy="308.5" r="0.5" fill="#c4bcbc"/>
<circle cx="489.5" cy="312.3" r="0.5" fill="#c4bcbc"/>
<circle cx="490.5" cy="322.0" r="0.5" fill="#c4bcbc"/>
<circle cx="492.4" cy="344.4" r="0.5" fill="#c4bcbc"/>
<circle cx="491.4" cy="348.4" r="0.5" fill="#c4bcbc"/>
<circle cx="501.3" cy="298.0" r="0.5" fill="#c4bcbc"/>
<circle cx="500.6" cy="303.5" r="0.5" fill="#c4bcbc"/>
<circle cx="497.7" cy="312.6" r="0.5" fill="#c4bcbc"/>
<circle cx="501.1" cy="322.8" r="0.5" fill="#c4bcbc"/>
<circle cx="502.9" cy="334.2" r="0.5" fill="#c4bcbc"/>
<circle cx="499.3" cy="344.9" r="0.5" fill="#c4bcbc"/>
<circle cx="500.3" cy="353.6" r="0.5" fill="#c4bcbc"/>
<circle cx="505.0" cy="295.9" r="0.5" fill="#c4bcbc"/>
<circle cx="506.1" cy="307.6" r="0.5" fill="#c4bcbc"/>
<circle cx="504.3" cy="314.2" r="0.5" fill="#c4bcbc"/>
<circle cx="508.9" cy="326.6" r="0.5" fill="#c4bcbc"/>
<circle cx="507.6" cy="334.0" r="0.5" fill="#c4bcbc"/>
<circle cx="504.7" cy="346.6" r="0.5" fill="#c4bcbc"/>
<circle cx="510.9" cy="356.0" r="0.5" fill="#c4bcbc"/>
<circle cx="515.2" cy="300.6" r="0.5" fill="#c4bcbc"/>
<circle cx="513.8" cy="313.7" r="0.5" fill="#c4bcbc"/>
<circle cx="516.1" cy="331.4" r="0.5" fill="#c4bcbc"/>
<circle cx="518.8" cy="340.4" r="0.5" fill="#c4bcbc"/>
<circle cx="526.3" cy="299.6" r="0.5" fill="#c4bcbc"/>
<circle cx="526.4" cy="306.9" r="0.5" fill="#c4bcbc"/>
<circle cx="519.9" cy="316.0" r="0.5" fill="#c4bcbc"/>
<circle cx="522.1" cy="322.3" r="0.5" fill="#c4bcbc"/>
<circle cx="522.2" cy="337.1" r="0.5" fill="#c4bcbc"/>
<circle cx="525.3" cy="346.1" r="0.5" fill="#c4bcbc"/>
<circle cx="526.6" cy="354.2" r="0.5" fill="#c4bcbc"/>
<circle cx="530.6" cy="306.2" r="0.5" fill="#c4bcbc"/>
<circle cx="530.5" cy="324.6" r="0.5" fill="#c4bcbc"/>
<circle cx="528.3" cy="331.0" r="0.5" fill="#c4bcbc"/>
<circle cx="534.7" cy="350.4" r="0.5" fill="#c4bcbc"/>
<circle cx="539.6" cy="295.4" r="0.5" fill="#c4bcbc"/>
<circle cx="542.8" cy="310.2" r="0.5" fill="#c4bcbc"/>
<circle cx="542.5" cy="328.8" r="0.5" fill="#c4bcbc"/>
<circle cx="541.1" cy="330.6" r="0.5" fill="#c4bcbc"/>
<circle cx="539.2" cy="345.4" r="0.5" fill="#c4bcbc"/>
<circle cx="538.0" cy="348.8" r="0.5" fill="#c4bcbc"/>
<circle cx="547.3" cy="305.8" r="0.5" fill="#c4bcbc"/>
<circle cx="549.3" cy="320.0" r="0.5" fill="#c4bcbc"/>
<circle cx="548.7" cy="323.6" r="0.5" fill="#c4bcbc"/>
<circle cx="546.8" cy="331.6" r="0.5" fill="#c4bcbc"/>
<circle cx="545.4" cy="346.7" r="0.5" fill="#c4bcbc"/>
<circle cx="545.5" cy="355.8" r="0.5" fill="#c4bcbc"/>
<circle cx="552.9" cy="304.5" r="0.5" fill="#c4bcbc"/>
<circle cx="554.4" cy="312.8" r="0.5" fill="#c4bcbc"/>
<circle cx="553.8" cy="325.8" r="0.5" fill="#c4bcbc"/>
<circle cx="554.9" cy="342.7" r="0.5" fill="#c4bcbc"/>
<circle cx="554.7" cy="351.1" r="0.5" fill="#c4bcbc"/>
<circle cx="562.0" cy="301.8" r="0.5" fill="#c4bcbc"/>
<circle cx="563.6" cy="308.1" r="0.5" fill="#c4bcbc"/>
<circle cx="561.9" cy="323.1" r="0.5" fill="#c4bcbc"/>
<circle cx="563.2" cy="338.0" r="0.5" fill="#c4bcbc"/>
<circle cx="568.2" cy="299.7" r="0.5" fill="#c4bcbc"/>
<circle cx="572.2" cy="312.0" r="0.5" fill="#c4bcbc"/>
<circle cx="574.6" cy="327.9" r="0.5" fill="#c4bcbc"/>
<circle cx="568.7" cy="349.6" r="0.5" fill="#c4bcbc"/>
<circle cx="580.9" cy="301.6" r="0.5" fill="#c4bcbc"/>
<circle cx="580.6" cy="309.2" r="0.5" fill="#c4bcbc"/>
<circle cx="579.9" cy="312.3" r="0.5" fill="#c4bcbc"/>
<circle cx="577.6" cy="328.6" r="0.5" fill="#c4bcbc"/>
<circle cx="578.2" cy="331.2" r="0.5" fill="#c4bcbc"/>
<circle cx="580.6" cy="345.0" r="0.5" fill="#c4bcbc"/>
<circle cx="576.5" cy="352.7" r="0.5" fill="#c4bcbc"/>
<circle cx="586.8" cy="295.7" r="0.5" fill="#c4bcbc"/>
<circle cx="584.1" cy="305.4" r="0.5" fill="#c4bcbc"/>
<circle cx="590.9" cy="317.3" r="0.5" fill="#c4bcbc"/>
<circle cx="585.7" cy="332.2" r="0.5" fill="#c4bcbc"/>
<circle cx="586.2" cy="348.5" r="0.5" fill="#c4bcbc"/>
<circle cx="596.8" cy="297.3" r="0.5" fill="#c4bcbc"/>
<circle cx="596.8" cy="310.5" r="0.5" fill="#c4bcbc"/>
<circle cx="592.2" cy="314.8" r="0.5" fill="#c4bcbc"/>
<circle cx="596.9" cy="322.7" r="0.5" fill="#c4bcbc"/>
<circle cx="597.3" cy="334.3" r="0.5" fill="#c4bcbc"/>
<circle cx="599.0" cy="341.8" r="0.5" fill="#c4bcbc"/>
<circle cx="601.6" cy="300.1" r="0.5" fill="#c4bcbc"/>
<circle cx="606.9" cy="307.0" r="0.5" fill="#c4bcbc"/>
<circle cx="601.6" cy="315.4" r="0.5" fill="#c4bcbc"/>
<circle cx="606.8" cy="322.3" r="0.5" fill="#c4bcbc"/>
<circle cx="601.5" cy="338.2" r="0.5" fill="#c4bcbc"/>
<circle cx="600.4" cy="339.8" r="0.5" fill="#c4bcbc"/>
<circle cx="606.5" cy="355.6" r="0.5" fill="#c4bcbc"/>
<circle cx="609.2" cy="300.1" r="0.6" fill="#666"/>
<circle cx="612.3" cy="308.0" r="0.6" fill="#666"/>
<circle cx="612.0" cy="315.5" r="0.6" fill="#666"/>
<circle cx="608.6" cy="326.6" r="0.6" fill="#666"/>
<circle cx="614.5" cy="337.5" r="0.6" fill="#666"/>
<circle cx="613.0" cy="356.0" r="0.6" fill="#666"/>
<circle cx="619.9" cy="303.2" r="0.6" fill="#666"/>
<circle cx="623.5" cy="307.3" r="0.6" fill="#666"/>
<circle cx="617.7" cy="318.1" r="0.6" fill="#666"/>
<circle cx="621.3" cy="342.4" r="0.6" fill="#666"/>
<circle cx="621.1" cy="347.5" r="0.6" fill="#666"/>
<circle cx="627.1" cy="300.4" r="0.6" fill="#666"/>
<circle cx="628.0" cy="310.1" r="0.6" fill="#666"/>
<circle cx="627.9" cy="322.7" r="0.6" fill="#666"/>
<circle cx="630.0" cy="341.3" r="0.6" fill="#666"/>
<circle cx="642.0" cy="305.7" r="0.6" fill="#666"/>
<circle cx="640.2" cy="316.6" r="0.6" fill="#666"/>
<circle cx="634.6" cy="332.1" r="0.6" fill="#666"/>
<circle cx="641.1" cy="349.9" r="0.6" fill="#666"/>
<circle cx="647.5" cy="308.9" r="0.6" fill="#666"/>
<circle cx="648.2" cy="336.9" r="0.6" fill="#666"/>
<circle cx="654.8" cy="332.1" r="0.6" fill="#666"/>
<circle cx="655.3" cy="337.9" r="0.6" fill="#666"/>
<circle cx="652.2" cy="354.3" r="0.6" fill="#666"/>
<circle cx="662.4" cy="297.7" r="0.6" fill="#666"/>
<circle cx="664.0" cy="320.4" r="0.6" fill="#666"/>
<circle cx="672.5" cy="297.4" r="0.6" fill="#666"/>
<circle cx="670.6" cy="327.9" r="0.6" fill="#666"/>
<circle cx="673.0" cy="342.0" r="0.6" fill="#666"/>
<circle cx="669.2" cy="350.9" r="0.6" fill="#666"/>
<circle cx="682.4" cy="303.0" r="0.6" fill="#666"/>
<circle cx="682.8" cy="321.6" r="0.6" fill="#666"/>
<circle cx="685.0" cy="333.2" r="0.6" fill="#666"/>
<circle cx="689.8" cy="294.9" r="0.6" fill="#666"/>
<circle cx="687.2" cy="317.1" r="0.6" fill="#666"/>
<circle cx="689.3" cy="326.2" r="0.6" fill="#666"/>
<circle cx="687.9" cy="337.3" r="0.6" fill="#666"/>
<circle cx="686.9" cy="355.3" r="0.6" fill="#666"/>
<circle cx="697.4" cy="307.8" r="0.6" fill="#666"/>
<circle cx="696.4" cy="323.2" r="0.6" fill="#666"/>
<circle cx="699.2" cy="337.1" r="0.6" fill="#666"/>
<circle cx="698.1" cy="349.5" r="0.6" fill="#666"/>
<circle cx="704.3" cy="313.6" r="0.6" fill="#666"/>
<circle cx="705.3" cy="320.3" r="0.6" fill="#666"/>
<circle cx="708.3" cy="335.1" r="0.6" fill="#666"/>
<circle cx="609.7" cy="294.5" r="0.5" fill="#c4bcbc"/>
<circle cx="613.7" cy="310.3" r="0.5" fill="#c4bcbc"/>
<circle cx="613.2" cy="317.4" r="0.5" fill="#c4bcbc"/>
<circle cx="614.4" cy="329.0" r="0.5" fill="#c4bcbc"/>
<circle cx="614.9" cy="333.5" r="0.5" fill="#c4bcbc"/>
<circle cx="615.1" cy="346.1" r="0.5" fill="#c4bcbc"/>
<circle cx="611.1" cy="352.6" r="0.5" fill="#c4bcbc"/>
<circle cx="617.4" cy="296.5" r="0.5" fill="#c4bcbc"/>
<circle cx="616.1" cy="307.5" r="0.5" fill="#c4bcbc"/>
<circle cx="616.1" cy="314.7" r="0.5" fill="#c4bcbc"/>
<circle cx="619.7" cy="321.6" r="0.5" fill="#c4bcbc"/>
<circle cx="623.0" cy="340.1" r="0.5" fill="#c4bcbc"/>
<circle cx="616.3" cy="354.7" r="0.5" fill="#c4bcbc"/>
<circle cx="625.0" cy="297.3" r="0.5" fill="#c4bcbc"/>
<circle cx="625.1" cy="328.6" r="0.5" fill="#c4bcbc"/>
<circle cx="629.1" cy="330.9" r="0.5" fill="#c4bcbc"/>
<circle cx="629.0" cy="342.8" r="0.5" fill="#c4bcbc"/>
<circle cx="630.8" cy="353.6" r="0.5" fill="#c4bcbc"/>
<circle cx="638.2" cy="303.5" r="0.5" fill="#c4bcbc"/>
<circle cx="634.5" cy="325.6" r="0.5" fill="#c4bcbc"/>
<circle cx="633.0" cy="343.6" r="0.5" fill="#c4bcbc"/>
<circle cx="632.8" cy="349.7" r="0.5" fill="#c4bcbc"/>
<circle cx="641.5" cy="296.4" r="0.5" fill="#c4bcbc"/>
<circle cx="645.5" cy="305.3" r="0.5" fill="#c4bcbc"/>
<circle cx="641.3" cy="314.9" r="0.5" fill="#c4bcbc"/>
<circle cx="641.8" cy="321.2" r="0.5" fill="#c4bcbc"/>
<circle cx="644.0" cy="331.7" r="0.5" fill="#c4bcbc"/>
<circle cx="646.8" cy="340.2" r="0.5" fill="#c4bcbc"/>
<circle cx="651.6" cy="300.7" r="0.5" fill="#c4bcbc"/>
<circle cx="651.7" cy="308.6" r="0.5" fill="#c4bcbc"/>
<circle cx="654.0" cy="326.9" r="0.5" fill="#c4bcbc"/>
<circle cx="651.0" cy="333.0" r="0.5" fill="#c4bcbc"/>
<circle cx="649.0" cy="339.9" r="0.5" fill="#c4bcbc"/>
<circle cx="649.9" cy="349.7" r="0.5" fill="#c4bcbc"/>
<circle cx="662.1" cy="301.0" r="0.5" fill="#c4bcbc"/>
<circle cx="658.1" cy="304.9" r="0.5" fill="#c4bcbc"/>
<circle cx="659.4" cy="313.3" r="0.5" fill="#c4bcbc"/>
<circle cx="657.9" cy="329.0" r="0.5" fill="#c4bcbc"/>
<circle cx="657.8" cy="347.2" r="0.5" fill="#c4bcbc"/>
<circle cx="658.6" cy="348.4" r="0.5" fill="#c4bcbc"/>
<circle cx="667.5" cy="298.0" r="0.5" fill="#c4bcbc"/>
<circle cx="667.7" cy="303.0" r="0.5" fill="#c4bcbc"/>
<circle cx="664.7" cy="315.3" r="0.5" fill="#c4bcbc"/>
<circle cx="664.2" cy="323.6" r="0.5" fill="#c4bcbc"/>
<circle cx="668.3" cy="334.5" r="0.5" fill="#c4bcbc"/>
<circle cx="668.8" cy="345.1" r="0.5" fill="#c4bcbc"/>
<circle cx="674.4" cy="301.9" r="0.5" fill="#c4bcbc"/>
<circle cx="677.3" cy="308.2" r="0.5" fill="#c4bcbc"/>
<circle cx="678.1" cy="319.3" r="0.5" fill="#c4bcbc"/>
<circle cx="677.4" cy="327.8" r="0.5" fill="#c4bcbc"/>
<circle cx="675.8" cy="334.3" r="0.5" fill="#c4bcbc"/>
<circle cx="686.5" cy="308.5" r="0.5" fill="#c4bcbc"/>
<circle cx="681.7" cy="312.3" r="0.5" fill="#c4bcbc"/>
<circle cx="682.7" cy="322.0" r="0.5" fill="#c4bcbc"/>
<circle cx="684.6" cy="344.4" r="0.5" fill="#c4bcbc"/>
<circle cx="683.6" cy="348.4" r="0.5" fill="#c4bcbc"/>
<circle cx="693.5" cy="298.0" r="0.5" fill="#c4bcbc"/>
<circle cx="692.8" cy="303.5" r="0.5" fill="#c4bcbc"/>
<circle cx="689.9" cy="312.6" r="0.5" fill="#c4bcbc"/>
<circle cx="693.3" cy="322.8" r="0.5" fill="#c4bcbc"/>
<circle cx="695.1" cy="334.2" r="0.5" fill="#c4bcbc"/>
<circle cx="691.5" cy="344.9" r="0.5" fill="#c4bcbc"/>
<circle cx="692.5" cy="353.6" r="0.5" fill="#c4bcbc"/>
<circle cx="697.2" cy="295.9" r="0.5" fill="#c4bcbc"/>
<circle cx="698.3" cy="307.6" r="0.5" fill="#c4bcbc"/>
<circle cx="696.5" cy="314.2" r="0.5" fill="#c4bcbc"/>
<circle cx="701.1" cy="326.6" r="0.5" fill="#c4bcbc"/>
<circle cx="699.8" cy="334.0" r="0.5" fill="#c4bcbc"/>
<circle cx="696.9" cy="346.6" r="0.5" fill="#c4bcbc"/>
<circle cx="703.1" cy="356.0" r="0.5" fill="#c4bcbc"/>
<circle cx="707.4" cy="300.6" r="0.5" fill="#c4bcbc"/>
<circle cx="706.0" cy="313.7" r="0.5" fill="#c4bcbc"/>
<circle cx="708.3" cy="331.4" r="0.5" fill="#c4bcbc"/>
<circle cx="711.0" cy="340.4" r="0.5" fill="#c4bcbc"/>
</g>
<line x1="40.27" y1="175.9" x2="153.77" y2="175.9" stroke="#000" stroke-width="1.6"/>
<line x1="74.11" y1="358.2" x2="187.61" y2="358.2" stroke="#000" stroke-width="1.5"/>
<line x1="183.87" y1="175.9" x2="529.37" y2="175.9" stroke="#000" stroke-width="1.6"/>
<line x1="217.71" y1="358.2" x2="563.21" y2="358.2" stroke="#000" stroke-width="1.5"/>
<line x1="561.07" y1="175.9" x2="674.67" y2="175.9" stroke="#000" stroke-width="1.6"/>
<line x1="594.91" y1="358.2" x2="708.51" y2="358.2" stroke="#000" stroke-width="1.5"/>
<polygon points="346.4,304.6 358.2,314.2 401,314.2 412,304.6" fill="#fff" stroke="none"/>
<g fill="#fff" stroke="none">
<polygon points="105.2,292.3 174.84,292.3 177.13,304.6 105.2,304.6"/>
<polygon points="205.94,292.3 550.44,292.3 552.73,304.6 208.23,304.6"/>
<polygon points="583.14,292.3 653.6,292.3 653.6,304.6 585.43,304.6"/>
</g>
<g fill="none" stroke="#000" stroke-width="1.4" stroke-linejoin="miter">
<path d="M175.14,292.3 H105.2 V304.6 H177.43"/>
<path d="M205.64,292.3 H550.74 M207.93,304.6 H553.03"/>
<path d="M582.84,292.3 H653.6 V304.6 H585.13"/>
</g>
<polyline points="38.40,163 57.00,265.2 68.00,270.8 49.00,274.2 60.00,279.8 77.60,374" fill="none" stroke="#222" stroke-width="0.8" stroke-linejoin="miter"/>
<polyline points="150.90,163 169.50,265.2 180.50,270.8 161.50,274.2 172.50,279.8 190.10,374" fill="none" stroke="#222" stroke-width="0.8" stroke-linejoin="miter"/>
<polyline points="182.00,163 200.60,265.2 211.60,270.8 192.60,274.2 203.60,279.8 221.20,374" fill="none" stroke="#222" stroke-width="0.8" stroke-linejoin="miter"/>
<polyline points="526.50,163 545.10,265.2 556.10,270.8 537.10,274.2 548.10,279.8 565.70,374" fill="none" stroke="#222" stroke-width="0.8" stroke-linejoin="miter"/>
<polyline points="559.20,163 577.80,265.2 588.80,270.8 569.80,274.2 580.80,279.8 598.40,374" fill="none" stroke="#222" stroke-width="0.8" stroke-linejoin="miter"/>
<polyline points="671.80,163 690.40,265.2 701.40,270.8 682.40,274.2 693.40,279.8 711.00,374" fill="none" stroke="#222" stroke-width="0.8" stroke-linejoin="miter"/>
<polygon points="358.2,176 400.75,176 400.75,314.2 358.2,314.2" fill="#fff" stroke="none"/>
<polyline points="346.4,304.6 358.2,314.2 400.75,314.2 412,304.6" fill="none" stroke="#000" stroke-width="1.5"/>
<line x1="358.2" y1="176" x2="358.2" y2="314.8" stroke="#000" stroke-width="1.45"/>
<line x1="400.75" y1="176" x2="400.75" y2="314.8" stroke="#000" stroke-width="1.45"/>
<path d="M358.2,185.2 A2.0,2.0 0 0 0 358.2,189.2 Z" fill="#000"/>
<path d="M400.75,185.2 A2.0,2.0 0 0 1 400.75,189.2 Z" fill="#000"/>
<path d="M358.2,203.7 A2.0,2.0 0 0 0 358.2,207.7 Z" fill="#000"/>
<path d="M400.75,203.7 A2.0,2.0 0 0 1 400.75,207.7 Z" fill="#000"/>
<path d="M358.2,222.1 A2.0,2.0 0 0 0 358.2,226.1 Z" fill="#000"/>
<path d="M400.75,222.1 A2.0,2.0 0 0 1 400.75,226.1 Z" fill="#000"/>
<path d="M358.2,240.6 A2.0,2.0 0 0 0 358.2,244.6 Z" fill="#000"/>
<path d="M400.75,240.6 A2.0,2.0 0 0 1 400.75,244.6 Z" fill="#000"/>
<path d="M358.2,259.0 A2.0,2.0 0 0 0 358.2,263.0 Z" fill="#000"/>
<path d="M400.75,259.0 A2.0,2.0 0 0 1 400.75,263.0 Z" fill="#000"/>
<path d="M358.2,277.5 A2.0,2.0 0 0 0 358.2,281.5 Z" fill="#000"/>
<path d="M400.75,277.5 A2.0,2.0 0 0 1 400.75,281.5 Z" fill="#000"/>
<defs><clipPath id="hc"><rect x="268.7" y="152" width="95.10000000000002" height="24"/><rect x="395.6" y="152" width="94.79999999999995" height="24"/></clipPath></defs>
<rect x="268.7" y="152" width="221.7" height="24" fill="#fff"/>
<g clip-path="url(#hc)" stroke="#000" stroke-width="1.1" fill="none">
<line x1="253.95" y1="150" x2="225.95" y2="178"/>
<line x1="262.10" y1="150" x2="234.10" y2="178"/>
<line x1="270.25" y1="150" x2="242.25" y2="178"/>
<line x1="278.40" y1="150" x2="250.40" y2="178"/>
<line x1="286.55" y1="150" x2="258.55" y2="178"/>
<line x1="294.70" y1="150" x2="266.70" y2="178"/>
<line x1="302.85" y1="150" x2="274.85" y2="178"/>
<line x1="311.00" y1="150" x2="283.00" y2="178"/>
<line x1="319.15" y1="150" x2="291.15" y2="178"/>
<line x1="327.30" y1="150" x2="299.30" y2="178"/>
<line x1="335.45" y1="150" x2="307.45" y2="178"/>
<line x1="343.60" y1="150" x2="315.60" y2="178"/>
<line x1="351.75" y1="150" x2="323.75" y2="178"/>
<line x1="359.90" y1="150" x2="331.90" y2="178"/>
<line x1="368.05" y1="150" x2="340.05" y2="178"/>
<line x1="376.20" y1="150" x2="348.20" y2="178"/>
<line x1="384.35" y1="150" x2="356.35" y2="178"/>
<line x1="392.50" y1="150" x2="364.50" y2="178"/>
<line x1="400.65" y1="150" x2="372.65" y2="178"/>
<line x1="408.80" y1="150" x2="380.80" y2="178"/>
<line x1="416.95" y1="150" x2="388.95" y2="178"/>
<line x1="425.10" y1="150" x2="397.10" y2="178"/>
<line x1="433.25" y1="150" x2="405.25" y2="178"/>
<line x1="441.40" y1="150" x2="413.40" y2="178"/>
<line x1="449.55" y1="150" x2="421.55" y2="178"/>
<line x1="457.70" y1="150" x2="429.70" y2="178"/>
<line x1="465.85" y1="150" x2="437.85" y2="178"/>
<line x1="474.00" y1="150" x2="446.00" y2="178"/>
<line x1="482.15" y1="150" x2="454.15" y2="178"/>
<line x1="490.30" y1="150" x2="462.30" y2="178"/>
<line x1="498.45" y1="150" x2="470.45" y2="178"/>
<line x1="506.60" y1="150" x2="478.60" y2="178"/>
<line x1="514.75" y1="150" x2="486.75" y2="178"/>
</g>
<rect x="268.7" y="152" width="221.7" height="24" fill="none" stroke="#000" stroke-width="1.6"/>
<line x1="363.8" y1="152" x2="363.8" y2="176" stroke="#000" stroke-width="1.4"/>
<line x1="367.6" y1="152" x2="367.6" y2="176" stroke="#000" stroke-width="1.4"/>
<line x1="391.6" y1="152" x2="391.6" y2="176" stroke="#000" stroke-width="1.4"/>
<line x1="395.6" y1="152" x2="395.6" y2="176" stroke="#000" stroke-width="1.4"/>
<g stroke="#000" stroke-width="1.3" fill="none">
<line x1="367.6" y1="154" x2="391.6" y2="157.2"/>
<line x1="367.6" y1="159.6" x2="391.6" y2="163.2"/>
<line x1="367.6" y1="166" x2="391.6" y2="169.2"/>
<line x1="367.6" y1="172" x2="391.6" y2="176"/>
<line x1="373.2" y1="157.2" x2="386" y2="159.6"/>
<line x1="373.2" y1="163.6" x2="386" y2="165.8"/>
<line x1="373.2" y1="169.6" x2="386" y2="171.6"/>
</g>
<g fill="none" stroke="#000" stroke-width="1.3">
<path d="M354.6,142.5 V124 A5.6,5.6 0 0 1 360.2,118.4 H398.8 A5.6,5.6 0 0 1 404.4,124 V142.5" fill="#fff"/>
<path d="M367.1,142.5 V123.8 M391.7,142.5 V123.8"/>
<path d="M362,118.5 Q365.6,119.8 367.1,123.8 C370.5,120.2 375,119.5 379.4,119.5 C384,119.5 388.3,120.2 391.7,123.8 Q393.2,119.8 397,118.5"/>
</g>
<rect x="339.3" y="142.5" width="80.39999999999998" height="9.5" fill="#fff" stroke="#000" stroke-width="1.4"/>
<line x1="379.2" y1="48" x2="379.2" y2="89.6" stroke="#000" stroke-width="2.6"/>
<polygon points="379.2,37.6 372,50 386.8,50" fill="#000"/>
<text x="357.8" y="76.4">P</text>
<line x1="477.3" y1="108.5" x2="487" y2="108.5" stroke="#9a9a9a" stroke-width="1"/>
<line x1="477.3" y1="108.5" x2="409.8" y2="211.5" stroke="#555" stroke-width="0.8"/>
<polygon points="403.1,220.7 407.1,210.5 411.9,213.4" fill="#111"/>
<text x="490.2" y="115">Cast-in insert</text>
<g stroke="#b0b0b0" stroke-width="1"><line x1="105.5" y1="392.4" x2="105.5" y2="427.8"/><line x1="653.5" y1="392.4" x2="653.5" y2="427.8"/><line x1="105.5" y1="419.5" x2="653.5" y2="419.5"/></g>
<polygon points="105.5,419.7 116,416.8 116,422.6" fill="#111"/>
<polygon points="653.5,419.7 643,416.8 643,422.6" fill="#111"/>
<text x="166.1" y="412.2" style="font-size:16.28px">Sufficient length to bond into concrete outside failure cone</text>
</svg></body></html>
